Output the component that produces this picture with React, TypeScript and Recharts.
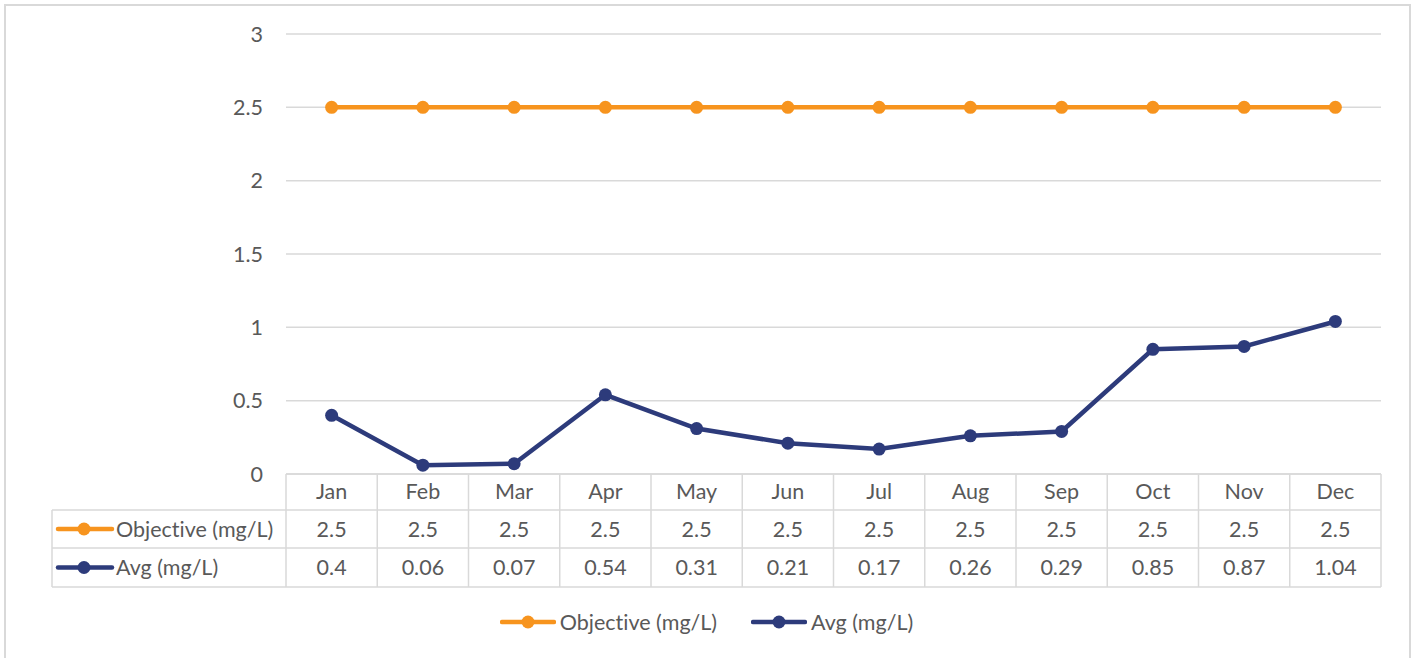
import React from "react"
import { LineChart, Line, XAxis, YAxis, CartesianGrid } from "recharts"

// chart values
const months = ["Jan", "Feb", "Mar", "Apr", "May", "Jun", "Jul", "Aug", "Sep", "Oct", "Nov", "Dec"]
const objective = [2.5, 2.5, 2.5, 2.5, 2.5, 2.5, 2.5, 2.5, 2.5, 2.5, 2.5, 2.5]
const avg = [0.4, 0.06, 0.07, 0.54, 0.31, 0.21, 0.17, 0.26, 0.29, 0.85, 0.87, 1.04]
const yTicks = [0, 0.5, 1, 1.5, 2, 2.5, 3]

const seriesNames = { objective: "Objective (mg/L)", avg: "Avg (mg/L)" }

const ORANGE = "#F7941E"
const NAVY = "#2D3B7B"
const TEXT = "#595959"
const GRID = "#D9D9D9"

// layout
const W = 1413
const H = 658
const PLOT_L = 286
const PLOT_R = 1381
const PLOT_T = 34
const PLOT_B = 474
const Y_AXIS_W = 60
const X_AXIS_H = 36
const COL_W = (PLOT_R - PLOT_L) / months.length
const TABLE_L = 52
const ROW1_T = 510
const ROW2_T = 548
const TABLE_B = 587
const FONT = 21.5

const chartData = months.map((m, i) => ({
  month: m,
  objective: objective[i],
  avg: avg[i],
}))

function LegendIcon({ color, width = 56 }: { color: string; width?: number }) {
  return (
    <svg width={width} height={14} style={{ display: "block" }}>
      <line x1={2} y1={7} x2={width - 2} y2={7} stroke={color} strokeWidth={4.5} strokeLinecap="round" />
      <circle cx={width / 2} cy={7} r={6.5} fill={color} />
    </svg>
  )
}

function DataTable() {
  const rows = [
    { name: seriesNames.objective, color: ORANGE, values: objective, top: ROW1_T, bottom: ROW2_T },
    { name: seriesNames.avg, color: NAVY, values: avg, top: ROW2_T, bottom: TABLE_B },
  ]
  return (
    <svg width={W} height={H} style={{ position: "absolute", left: 0, top: 0, pointerEvents: "none" }}>
      {/* horizontal lines */}
      <line x1={TABLE_L} y1={ROW1_T} x2={PLOT_R} y2={ROW1_T} stroke={GRID} strokeWidth={1.5} />
      <line x1={TABLE_L} y1={ROW2_T} x2={PLOT_R} y2={ROW2_T} stroke={GRID} strokeWidth={1.5} />
      <line x1={TABLE_L} y1={TABLE_B} x2={PLOT_R} y2={TABLE_B} stroke={GRID} strokeWidth={1.5} />
      {/* vertical lines */}
      <line x1={TABLE_L} y1={ROW1_T} x2={TABLE_L} y2={TABLE_B} stroke={GRID} strokeWidth={1.5} />
      {months.map((_, i) => (
        <line
          key={i}
          x1={PLOT_L + i * COL_W}
          y1={PLOT_B}
          x2={PLOT_L + i * COL_W}
          y2={TABLE_B}
          stroke={GRID}
          strokeWidth={1.5}
        />
      ))}
      <line x1={PLOT_R} y1={PLOT_B} x2={PLOT_R} y2={TABLE_B} stroke={GRID} strokeWidth={1.5} />
      {rows.map((r) => {
        const cy = (r.top + r.bottom) / 2
        return (
          <g key={r.name}>
            <line x1={58} y1={cy} x2={112} y2={cy} stroke={r.color} strokeWidth={4.5} strokeLinecap="round" />
            <circle cx={84} cy={cy} r={6.5} fill={r.color} />
            <text x={116} y={cy} dy="0.35em" fill={TEXT} fontSize={FONT}>
              {r.name}
            </text>
            {r.values.map((v, i) => (
              <text
                key={i}
                x={PLOT_L + (i + 0.5) * COL_W}
                y={cy}
                dy="0.35em"
                textAnchor="middle"
                fill={TEXT}
                fontSize={FONT}
              >
                {v}
              </text>
            ))}
          </g>
        )
      })}
    </svg>
  )
}

export default function App() {
  return (
    <div
      style={{
        position: "absolute",
        left: 0,
        top: 0,
        width: W,
        height: H,
        background: "#fff",
        overflow: "hidden",
        fontFamily: "Lato, 'Open Sans', sans-serif",
        fontVariantLigatures: "none",
      }}
    >
      <div
        style={{
          position: "absolute",
          left: 4,
          top: 4,
          width: 1407,
          height: 700,
          border: `2px solid ${GRID}`,
          boxSizing: "border-box",
        }}
      />
      <div style={{ position: "absolute", left: 0, top: 0 }}>
        <LineChart
          width={W}
          height={H}
          data={chartData}
          margin={{ top: PLOT_T, right: W - PLOT_R, left: PLOT_L - Y_AXIS_W, bottom: H - PLOT_B - X_AXIS_H }}
        >
          <CartesianGrid horizontal vertical={false} stroke={GRID} strokeWidth={1.5} />
          <XAxis
            dataKey="month"
            height={X_AXIS_H}
            padding={{ left: COL_W / 2, right: COL_W / 2 }}
            axisLine={{ stroke: GRID, strokeWidth: 1.5 }}
            tickLine={false}
            tickMargin={4}
            tick={{ fill: TEXT, fontSize: FONT }}
            interval={0}
          />
          <YAxis
            width={Y_AXIS_W}
            domain={[0, 3]}
            ticks={yTicks}
            axisLine={false}
            tickLine={false}
            tickMargin={17}
            tick={{ fill: TEXT, fontSize: FONT }}
          />
          <Line
            type="linear"
            dataKey="objective"
            name={seriesNames.objective}
            stroke={ORANGE}
            strokeWidth={4.5}
            dot={{ r: 6.5, fill: ORANGE, stroke: ORANGE, strokeWidth: 0 }}
            isAnimationActive={false}
          />
          <Line
            type="linear"
            dataKey="avg"
            name={seriesNames.avg}
            stroke={NAVY}
            strokeWidth={4.5}
            dot={{ r: 6.5, fill: NAVY, stroke: NAVY, strokeWidth: 0 }}
            isAnimationActive={false}
          />
        </LineChart>
      </div>
      <DataTable />
      <div
        style={{
          position: "absolute",
          left: 0,
          top: 609,
          width: W,
          display: "flex",
          justifyContent: "center",
          alignItems: "center",
          gap: 0,
          color: TEXT,
          fontSize: FONT,
        }}
      >
        <LegendIcon color={ORANGE} />
        <span style={{ marginLeft: 4, marginRight: 34 }}>{seriesNames.objective}</span>
        <LegendIcon color={NAVY} />
        <span style={{ marginLeft: 4 }}>{seriesNames.avg}</span>
      </div>
    </div>
  )
}
